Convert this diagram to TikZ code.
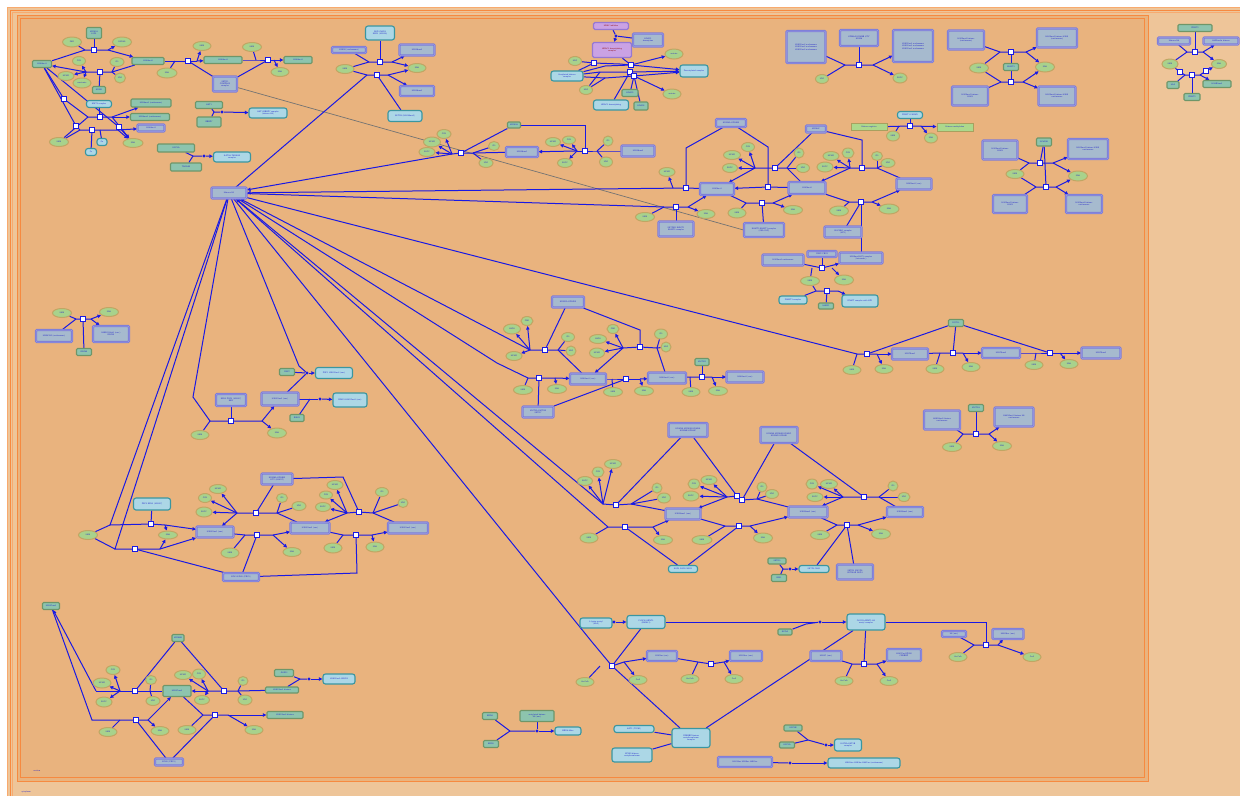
\documentclass[tikz,border=0pt]{standalone}
\usetikzlibrary{shapes.geometric,arrows.meta}
\definecolor{bgout}{RGB}{238,197,153}
\definecolor{bgin}{RGB}{233,179,126}
\definecolor{orl}{RGB}{246,138,64}
\definecolor{orl2}{RGB}{248,170,110}
\definecolor{ptf}{RGB}{141,196,174}
\definecolor{ptb}{RGB}{110,150,105}
\definecolor{cxf}{RGB}{166,186,206}
\definecolor{cxb}{RGB}{124,124,216}
\definecolor{lbf}{RGB}{172,215,230}
\definecolor{lbb}{RGB}{58,150,160}
\definecolor{elf}{RGB}{168,210,140}
\definecolor{elb}{RGB}{192,166,100}
\definecolor{puf}{RGB}{202,162,228}
\definecolor{pub}{RGB}{150,120,210}
\definecolor{grf}{RGB}{172,216,140}
\definecolor{grb}{RGB}{168,160,95}
\definecolor{eb}{RGB}{25,25,228}
\definecolor{txt}{RGB}{30,30,200}
\pgfdeclarelayer{bglayer}
\pgfdeclarelayer{edgelayer}
\pgfsetlayers{bglayer,edgelayer,main}
\tikzset{
  nb/.style={font=\fontsize{2.1}{2.4}\selectfont\sffamily, text=txt, align=center, inner sep=0.3pt},
  pt/.style 2 args={nb, draw=ptb, fill=ptf, line width=1.1pt, rounded corners=1.2pt, minimum width=#1pt, minimum height=#2pt},
  cx/.style 2 args={nb, draw=cxb, fill=cxf, line width=0.9pt, double=cxb!75!white, double distance=0.5pt, rounded corners=1pt, minimum width=#1pt, minimum height=#2pt},
  lb/.style 2 args={nb, draw=lbb, fill=lbf, line width=1.1pt, rounded corners=2.5pt, minimum width=#1pt, minimum height=#2pt},
  pu/.style 2 args={nb, draw=pub, fill=puf, line width=1.3pt, rounded corners=1.5pt, minimum width=#1pt, minimum height=#2pt, text=red!55!black},
  gr/.style 2 args={nb, draw=grb, fill=grf, line width=1pt, minimum width=#1pt, minimum height=#2pt},
  el/.style 2 args={nb, ellipse, draw=elb, fill=elf, line width=1pt, minimum width=#1pt, minimum height=#2pt, inner sep=0pt},
  pr/.style={draw=eb, fill=white, line width=0.8pt, minimum size=4.6pt, inner sep=0pt},
  dt/.style={circle, fill=eb, minimum size=3.4pt, inner sep=0pt},
  ed/.style={draw=eb, line width=1pt},
  ar/.style={ed, -{Triangle[length=3.6pt,width=3.4pt]}},
  gl/.style={draw=black!55, line width=0.7pt},
}
\begin{document}
\begin{tikzpicture}[x=1pt,y=-1pt]
\useasboundingbox (0,0) rectangle (1240,796);
\begin{pgfonlayer}{bglayer}
\fill[white] (0,0) rectangle (1240,796);
\fill[bgout] (8,8) rectangle (1240,796);
\draw[orl2,line width=0.8pt] (7.5,796) -- (7.5,7.5) -- (1240,7.5);
\draw[orl,line width=0.9pt] (10,796) -- (10,10) -- (1240,10);
\draw[orl2,line width=0.6pt] (12,796) -- (12,12) -- (1240,12);
\fill[bgin] (17,15) rectangle (1148,781);
\draw[orl,line width=0.8pt] (17,15) rectangle (1148,781);
\draw[orl,line width=1.1pt] (20.5,18.5) rectangle (1144.5,777.5);
\node[nb,anchor=west] (lnuc) at (33,771) {nucleus};
\node[nb,anchor=west] (lcyt) at (21,792) {cytoplasm};
\end{pgfonlayer}

% ---------- hub
\node[cx={35}{11}] (hub) at (229,193) {Histone H3};

% ---------- top-left A
\node[pt={15}{11}] (a1) at (94,33) {KDM1A\\LSD1};
\node[el={19}{10}] (ae1) at (72,42) {FAD};
\node[el={19}{10}] (ae2) at (122,42) {FADH2};
\node[pr] (ap1) at (94,50) {};
\node[pt={19}{7}] (a2) at (42,64) {H3K4me1};
\node[el={13}{9}] (ae3) at (79,61) {CO2};
\node[el={14}{9}] (ae4) at (117,62) {O2};
\node[el={16}{9}] (ae5) at (66,76) {HCHO};
\node[el={18}{10}] (ae6) at (82,83) {succinate};
\node[el={11}{10}] (ae7) at (120,78) {2OG};
\node[pr] (ap2) at (100,72) {};
\node[pt={13}{7}] (a3) at (99,90) {KDM5};
\node[pt={32}{7}] (a4) at (148,61) {H3K4me2};
\node[lb={25}{7}] (a7) at (99,104) {KMT2 complex};
\node[pt={40}{8}] (a8) at (151,103) {H3K4me3 (nucleosome)};
\node[pt={39}{7}] (a9) at (150,117) {H3K4me2 (nucleosome)};
\node[cx={27}{7}] (a10) at (151,128) {H3K4me1};
\node[el={19}{9}] (ae8) at (59,142) {SAM};
\node[lb={10}{7}] (a11) at (102,142) {Zn};
\node[lb={11}{7}] (a12) at (91,152) {Fe};
\node[el={20}{9}] (ae9) at (133,143) {SAH};
\node[pr] (bq1) at (64,99) {};
\node[pr] (bq2) at (76,126) {};
\node[pr] (bq5) at (100,117) {};
\node[pr] (bq4) at (92,130) {};
\node[pr] (bq6) at (119,127) {};
\node[pt={27}{7}] (a13) at (209,105) {HAT1};
\node[pt={24}{10}] (a14) at (209,122) {RBBP7};
\node[dt] (ad1) at (222,112) {};
\node[lb={38}{10}] (a15) at (268,113) {HAT1:RBBP7 complex\\(histone H4)};
\node[pt={37}{8}] (a16) at (176,148) {KAT2A};
\node[pt={31}{8}] (a17) at (186,167) {TADA2B};
\node[dt] (ad2) at (204,156) {};
\node[lb={37}{10}] (a18) at (232,157) {KAT2A:TADA2B\\complex};
\node[pr] (ap3) at (188,61) {};
\node[el={18}{9}] (ae10) at (202,46) {SAM};
\node[el={20}{10}] (ae11) at (167,73) {SAH};
\node[pt={38}{7}] (a5) at (223,60) {H3K4me3};
\node[cx={24}{15}] (a6c) at (225,84) {SETD1\\COMPASS\\complex};
\node[el={19}{9}] (ae12) at (252,47) {SAM};
\node[pr] (ap4) at (268,60) {};
\node[el={18}{9}] (ae13) at (280,72) {SAH};
\node[pt={28}{7}] (a19) at (298,60) {H3K4me3};

% ---------- top-center B
\node[lb={29}{14}] (b1) at (380,33) {NSD1 NSD2\\NSD3 (H3K36)};
\node[cx={34}{6}] (b2) at (349,50) {H3K36 (nucleosome)};
\node[cx={35}{11}] (b3) at (417,50) {H3K36me2};
\node[el={18}{9}] (be1) at (345,69) {SAM};
\node[pr] (bp1) at (380,62) {};
\node[pr] (bp2) at (377,75) {};
\node[el={18}{9}] (be2) at (417,68) {SAH};
\node[cx={34}{10}] (b4) at (417,91) {H3K36me3};
\node[lb={34}{11}] (b5) at (405,116) {SETD2 (H3K36me3)};

% ---------- purple P
\node[pu={35}{7}] (p1) at (611,26) {HDAC inhibitor};
\node[pu={39}{15}] (p2) at (612,50) {HDAC1 deacetylating\\complex};
\node[cx={30}{13}] (p3) at (648,40) {HDAC1\\deacetylase};
\node[dt] (pd1) at (616,36) {};
\node[el={13}{9}] (pe1) at (575,61) {H2O};
\node[lb={32}{10}] (p4) at (567,76) {Acetylated histone\\complex};
\node[el={13}{9}] (pe2) at (586,90) {H2O};
\node[pt={16}{7}] (p5) at (630,93) {HDAC2};
\node[lb={35}{10}] (p6) at (611,105) {HDAC3 deacetylating};
\node[pt={14}{8}] (p7) at (641,106) {HDAC8};
\node[pr] (pp1) at (594,63) {};
\node[pr] (pp2) at (631,65) {};
\node[pr] (pp3) at (630,72) {};
\node[pr] (pp4) at (634,76) {};
\node[lb={28}{12}] (p8) at (694,71) {Deacetylated complex};
\node[el={18}{10}] (pe3) at (674,54) {acetate};
\node[el={18}{10}] (pe4) at (672,94) {acetate};

% ---------- top C
\node[cx={39}{32}] (c4) at (806,47) {H3K27me3 nucleosome\\H3K27me3 nucleosome\\H3K27me2 nucleosome};
\node[cx={38}{16}] (c5) at (859,38) {KDM6A KDM6B UTY\\KDM6};
\node[cx={40}{32}] (c6) at (913,46) {H3K27me1 nucleosome\\H3K27me1 nucleosome\\H3K27me1 nucleosome};
\node[pr] (cp2) at (859,65) {};
\node[el={13}{9}] (ce3) at (822,79) {2OG};
\node[el={14}{10}] (ce4) at (900,78) {SUCC};
\node[lb={25}{7}] (c1) at (910,115) {PRMT1 CARM1};
\node[gr={36}{7}] (c2) at (869,127) {Histone arginine};
\node[gr={36}{8}] (c3) at (955,127) {Histone methylation};
\node[pr] (cp1) at (910,126) {};
\node[el={13}{10}] (ce1) at (893,136) {SAM};
\node[el={13}{10}] (ce2) at (931,138) {SAH};
\node[cx={36}{19}] (c7) at (966,40) {H3K9me2 histone\\(nucleosome)};
\node[cx={40}{19}] (c8) at (1057,38) {H3K9me3 histone H3K9\\(nucleosome)};
\node[pr] (cp3) at (1011,52) {};
\node[pr] (cp4) at (1011,82) {};
\node[el={19}{10}] (ce5) at (979,68) {SAM};
\node[pt={15}{7}] (c9) at (1011,67) {EHMT2};
\node[el={19}{10}] (ce6) at (1045,67) {SAH};
\node[cx={36}{19}] (c10) at (970,96) {H3K9me1 histone\\H3K9};
\node[cx={37}{19}] (c11) at (1057,96) {H3K9me2 histone H3K9\\nucleosome};
\node[cx={35}{19}] (c12) at (1000,150) {H3K9me2 histone\\H3K9};
\node[pt={15}{8}] (c13) at (1044,142) {SUV39H};
\node[cx={40}{20}] (c14) at (1088,149) {H3K9me3 histone H3K9\\nucleosome};
\node[el={18}{9}] (ce7) at (1015,174) {SAM};
\node[el={19}{10}] (ce8) at (1078,176) {SAH};
\node[pr] (cp5) at (1040,163) {};
\node[pr] (cp6) at (1046,187) {};
\node[cx={34}{18}] (c15) at (1010,204) {H3K9me1 histone\\H3K9};
\node[cx={36}{18}] (c16) at (1084,204) {H3K9me2 histone\\nucleosome};

% ---------- right cytoplasm D
\node[pt={34}{7}] (d1) at (1195,28) {PRMT5};
\node[cx={32}{7}] (d2) at (1174,41) {Histone H4};
\node[cx={35}{7}] (d3) at (1221,41) {H4R3me2s histone};
\node[pr] (dp1) at (1195,52) {};
\node[el={16}{10}] (de1) at (1170,64) {SAM};
\node[el={15}{9}] (de2) at (1219,64) {SAH};
\node[pr] (dp2) at (1192,75) {};
\node[pr] (dq1) at (1180,72) {};
\node[pr] (dq2) at (1206,71) {};
\node[pt={12}{7}] (d4) at (1173,85) {H2A};
\node[pt={28}{7}] (d5) at (1217,84) {H2AR3me2};
\node[pt={16}{7}] (d6) at (1192,97) {PRMT5};

% ---------- E
\node[pt={13}{6}] (e0) at (514,125) {KDM2A};
\node[el={17}{10}] (ee1) at (432,142) {HCHO};
\node[el={14}{9}] (ee2) at (444,134) {CO2};
\node[el={16}{9}] (ee3) at (427,152) {SUCC};
\node[el={11}{9}] (ee4) at (494,146) {O2};
\node[el={14}{9}] (ee5) at (486,163) {2OG};
\node[pr] (ep1) at (461,153) {};
\node[cx={32}{10}] (e1) at (522,152) {H3K36me1};
\node[el={15}{9}] (ee6) at (553,142) {HCHO};
\node[el={13}{8}] (ee7) at (569,140) {CO2};
\node[el={15}{9}] (ee8) at (565,163) {SUCC};
\node[el={10}{10}] (ee9) at (608,141) {O2};
\node[el={13}{10}] (ee10) at (606,162) {2OG};
\node[pr] (ep3) at (585,151) {};
\node[cx={33}{11}] (e2) at (638,151) {H3K36me2};

% ---------- T cluster
\node[cx={30}{8}] (t1) at (731,123) {KDM4A KDM4B};
\node[cx={20}{7}] (t2) at (816,129) {KDM4C};
\node[pr] (tp1) at (686,188) {};
\node[pr] (tp2) at (768,187) {};
\node[pr] (tp3) at (775,168) {};
\node[pr] (tp4) at (862,168) {};
\node[pr] (tp5) at (762,203) {};
\node[pr] (tp6) at (861,202) {};
\node[pr] (tp7) at (676,207) {};
\node[cx={34}{12}] (t3) at (717,189) {H3K9me1};
\node[cx={37}{12}] (t4) at (807,188) {H3K9me2};
\node[cx={35}{11}] (t5) at (914,184) {H3K9me3 (nuc)};
\node[el={16}{9}] (te1) at (667,172) {HCHO};
\node[el={17}{9}] (te2) at (732,155) {HCHO};
\node[el={13}{9}] (te3) at (748,147) {CO2};
\node[el={15}{9}] (te4) at (730,168) {SUCC};
\node[el={10}{10}] (te5) at (799,153) {O2};
\node[el={13}{9}] (te6) at (803,168) {2OG};
\node[el={16}{9}] (te7) at (831,156) {HCHO};
\node[el={12}{10}] (te8) at (848,153) {CO2};
\node[el={16}{10}] (te9) at (825,167) {SUCC};
\node[el={11}{9}] (te10) at (877,156) {O2};
\node[el={14}{9}] (te11) at (888,163) {2OG};
\node[el={19}{9}] (te12) at (645,217) {SAM};
\node[el={18}{9}] (te13) at (706,214) {SAH};
\node[cx={35}{15}] (t6) at (676,229) {SETDB1 EHMT1\\EHMT2 complex};
\node[el={18}{10}] (te14) at (737,213) {SAM};
\node[el={19}{9}] (te15) at (793,210) {SAH};
\node[cx={40}{14}] (t7) at (764,230) {EHMT2 EHMT1 complex\\(G9A GLP)};
\node[el={19}{10}] (te16) at (839,211) {SAM};
\node[el={20}{10}] (te17) at (889,209) {SAH};
\node[cx={37}{11}] (t8) at (843,232) {SUV39H1 complex\\(HP1)};
\node[cx={41}{11}] (t9) at (783,260) {H3K9me3 nucleosome};
\node[cx={29}{6}] (t10) at (822,254) {CBX5 CBX1};
\node[cx={43}{11}] (t11) at (861,258) {H3K9me3:HP1 complex\\(heterochr.)};
\node[pr] (tp8) at (822,268) {};
\node[el={19}{9}] (te18) at (810,281) {SAM};
\node[el={19}{10}] (te19) at (844,280) {SAH};
\node[pr] (tp9) at (827,291) {};
\node[lb={28}{8}] (t12) at (793,300) {DNMT3 complex};
\node[pt={15}{6}] (t13) at (826,306) {UHRF1};
\node[lb={36}{12}] (t14) at (860,301) {DNMT complex with HP1};

% ---------- F cluster
\node[cx={32}{11}] (f1) at (568,302) {KDM1A KDM1B};
\node[el={17}{10}] (fe1) at (512,329) {H2O2};
\node[el={12}{9}] (fe2) at (527,321) {FAD};
\node[el={16}{9}] (fe3) at (514,356) {HCHO};
\node[el={13}{9}] (fe4) at (568,337) {O2};
\node[el={10}{10}] (fe5) at (571,351) {H2O};
\node[pr] (fp1) at (545,350) {};
\node[el={17}{9}] (fe6) at (598,339) {H2O2};
\node[el={12}{9}] (fe7) at (613,329) {FAD};
\node[el={15}{10}] (fe8) at (597,353) {HCHO};
\node[el={13}{10}] (fe9) at (661,334) {O2};
\node[el={10}{10}] (fe10) at (666,347) {H2O};
\node[pr] (fp2) at (640,347) {};
\node[cx={36}{11}] (f2) at (588,379) {H3K4me1 (nuc)};
\node[pr] (fp3) at (539,378) {};
\node[el={19}{9}] (fe11) at (523,390) {SAM};
\node[el={19}{9}] (fe12) at (557,389) {SAH};
\node[cx={31}{11}] (f3) at (538,412) {KMT2A KMT2B\\SETD7};
\node[pr] (fp4) at (626,379) {};
\node[el={19}{9}] (fe13) at (613,392) {SAM};
\node[el={19}{9}] (fe14) at (644,391) {SAH};
\node[cx={38}{11}] (f4) at (667,378) {H3K4me2 (nuc)};
\node[pt={14}{7}] (f5) at (702,362) {KMT2D};
\node[pr] (fp5) at (702,377) {};
\node[el={18}{9}] (fe15) at (691,392) {SAM};
\node[el={19}{9}] (fe16) at (718,391) {SAH};
\node[cx={37}{11}] (f6) at (745,377) {H3K4me3 (nuc)};

% ---------- G cluster
\node[pt={15}{7}] (g1) at (956,323) {DOT1L};
\node[pr] (gp1) at (867,354) {};
\node[el={18}{9}] (ge1) at (852,370) {SAM};
\node[el={18}{9}] (ge2) at (884,369) {SAH};
\node[cx={36}{11}] (g2) at (910,354) {H3K79me1};
\node[pr] (gp2) at (953,353) {};
\node[el={18}{9}] (ge3) at (935,369) {SAM};
\node[el={18}{9}] (ge4) at (971,367) {SAH};
\node[cx={38}{10}] (g3) at (1001,353) {H3K79me2};
\node[pr] (gp3) at (1050,353) {};
\node[el={18}{9}] (ge5) at (1034,365) {SAM};
\node[el={18}{9}] (ge6) at (1069,364) {SAH};
\node[cx={39}{11}] (g4) at (1101,353) {H3K79me3};
\node[cx={36}{19}] (g5) at (942,420) {H4K20me0 histone\\nucleosome};
\node[pt={15}{7}] (g6) at (976,408) {KMT5A};
\node[cx={39}{19}] (g7) at (1014,417) {H4K20me1 histone H4\\nucleosome};
\node[pr] (gp4) at (976,434) {};
\node[el={19}{9}] (ge7) at (952,447) {SAM};
\node[el={19}{9}] (ge8) at (1002,446) {SAH};

% ---------- H cluster
\node[el={19}{9}] (he1) at (62,313) {SAM};
\node[el={19}{9}] (he2) at (109,312) {SAH};
\node[pr] (hp) at (83,319) {};
\node[cx={36}{12}] (h1) at (54,336) {H2BK120 (nucleosome)};
\node[cx={36}{16}] (h2) at (111,334) {H2BK120ub1 (nuc.)\\RNF20};
\node[pt={15}{7}] (h3) at (84,352) {RNF40};

% ---------- I cluster
\node[cx={30}{12}] (i1) at (231,400) {EZH2 PRC2 (H3K27)\\EED};
\node[cx={37}{13}] (i2) at (280,399) {H3K27me3 (nuc)};
\node[pr] (ip) at (231,421) {};
\node[el={18}{9}] (ie1) at (200,435) {SAM};
\node[el={19}{10}] (ie2) at (277,433) {SAH};
\node[pt={15}{7}] (i3) at (287,372) {CBX7};
\node[dt] (id1) at (307,373) {};
\node[lb={37}{11}] (i4) at (334,373) {PRC1 H3K27me3 (nuc)};
\node[pt={14}{7}] (i5) at (297,418) {RING1};
\node[dt] (id2) at (320,399) {};
\node[lb={34}{14}] (i6) at (350,400) {RING1 H3K27me3 (nuc)};

% ---------- J cluster
\node[lb={37}{12}] (j1) at (152,504) {PRC2 EZH2 (H3K27)};
\node[pr] (jp1) at (151,524) {};
\node[pr] (jp2) at (135,549) {};
\node[el={19}{9}] (je1) at (88,535) {SAM};
\node[el={19}{8}] (je2) at (168,535) {SAH};
\node[cx={37}{11}] (j2) at (215,532) {H3K27me1 (nuc)};
\node[el={17}{9}] (je3) at (218,489) {HCHO};
\node[el={13}{9}] (je4) at (205,498) {CO2};
\node[el={16}{10}] (je5) at (204,512) {SUCC};
\node[pr] (jp3) at (256,513) {};
\node[el={11}{9}] (je6) at (282,498) {O2};
\node[el={14}{9}] (je7) at (299,506) {2OG};
\node[pr] (jp4) at (257,535) {};
\node[el={18}{10}] (je8) at (230,553) {SAM};
\node[el={18}{9}] (je9) at (292,552) {SAH};
\node[cx={39}{11}] (j3) at (310,528) {H3K27me2 (nuc)};
\node[cx={36}{8}] (j4) at (241,577) {EZH1 EZH2 (PRC2)};
\node[cx={31}{11}] (j5) at (277,479) {KDM6A KDM6B\\UTY (H3K27)};
\node[el={16}{9}] (je10) at (335,485) {HCHO};
\node[el={13}{8}] (je11) at (326,495) {CO2};
\node[el={15}{9}] (je12) at (323,507) {SUCC};
\node[el={13}{9}] (je13) at (382,492) {O2};
\node[el={10}{9}] (je14) at (403,503) {2OG};
\node[pr] (jp5) at (359,512) {};
\node[pr] (jp6) at (356,535) {};
\node[cx={40}{11}] (j6) at (408,528) {H3K27me3 (nuc)};
\node[el={18}{10}] (je15) at (333,548) {SAM};
\node[el={18}{10}] (je16) at (375,547) {SAH};

% ---------- K cluster
\node[cx={39}{14}] (k1) at (688,430) {KDM2A KDM2B KDM4A\\KDM4B KDM4C};
\node[cx={37}{16}] (k2) at (779,435) {KDM4A KDM4B KDM4C\\KDM4D KDM4E};
\node[el={15}{9}] (ke1) at (585,481) {SUCC};
\node[el={12}{10}] (ke2) at (598,472) {CO2};
\node[el={17}{9}] (ke3) at (613,464) {HCHO};
\node[el={10}{10}] (ke4) at (657,488) {O2};
\node[el={13}{10}] (ke5) at (664,498) {2OG};
\node[pr] (kp1) at (616,505) {};
\node[cx={35}{11}] (k3) at (683,514) {H3K36me1 (nuc)};
\node[el={12}{10}] (ke6) at (694,484) {CO2};
\node[el={16}{9}] (ke7) at (709,480) {HCHO};
\node[el={16}{10}] (ke8) at (691,496) {SUCC};
\node[el={10}{10}] (ke9) at (762,487) {O2};
\node[el={13}{9}] (ke10) at (772,494) {2OG};
\node[pr] (kp2) at (737,496) {};
\node[pr] (kp3) at (742,500) {};
\node[cx={39}{11}] (k4) at (808,512) {H3K36me2 (nuc)};
\node[el={12}{10}] (ke11) at (812,484) {CO2};
\node[el={17}{9}] (ke12) at (829,484) {HCHO};
\node[el={16}{9}] (ke13) at (815,497) {SUCC};
\node[el={10}{10}] (ke14) at (893,486) {O2};
\node[el={12}{9}] (ke15) at (904,497) {2OG};
\node[pr] (kp4) at (864,497) {};
\node[cx={36}{10}] (k5) at (905,512) {H3K36me3 (nuc)};
\node[pr] (kp5) at (625,527) {};
\node[el={18}{10}] (ke16) at (589,538) {SAM};
\node[el={19}{9}] (ke17) at (663,540) {SAH};
\node[lb={29}{7}] (k6) at (683,569) {NSD1 NSD2 NSD3};
\node[pr] (kp6) at (739,526) {};
\node[el={20}{9}] (ke18) at (702,540) {SAM};
\node[el={19}{10}] (ke19) at (763,538) {SAH};
\node[pt={18}{6}] (k7) at (777,561) {SETD2};
\node[pt={15}{7}] (k8) at (779,578) {IWS1};
\node[dt] (kd) at (790,569) {};
\node[lb={30}{7}] (k9) at (814,569) {SETD2 IWS1};
\node[pr] (kp7) at (847,525) {};
\node[el={19}{9}] (ke20) at (820,535) {SAM};
\node[el={19}{10}] (ke21) at (881,534) {SAH};
\node[cx={36}{15}] (k10) at (855,572) {SETD2 SMYD2\\SETMAR NSD1};

% ---------- L cluster
\node[lb={32}{10}] (l1) at (596,623) {L-lysine acetyl\\(H2A)};
\node[dt] (ld0) at (614,622) {};
\node[lb={38}{13}] (l2) at (646,622) {CLOCK:ARNTL\\(BMAL1)};
\node[lb={38}{16}] (l3) at (866,622) {CLOCK:ARNTL:H3\\acetyl complex};
\node[pt={14}{6}] (l4) at (785,632) {NCOA};
\node[dt] (ld1) at (820,622) {};
\node[pr] (lp1) at (612,666) {};
\node[el={18}{9}] (le1) at (585,682) {Ac-CoA};
\node[cx={30}{10}] (l5) at (662,656) {H3K9ac (nuc)};
\node[el={18}{9}] (le2) at (638,680) {CoA};
\node[pr] (lp2) at (711,664) {};
\node[cx={32}{10}] (l6) at (746,656) {H3K14ac (nuc)};
\node[el={18}{9}] (le3) at (690,679) {Ac-CoA};
\node[el={18}{9}] (le4) at (734,679) {CoA};
\node[cx={31}{10}] (l7) at (826,656) {H3K27 (nuc)};
\node[cx={34}{12}] (l8) at (904,655) {H3K27ac EP300\\CREBBP};
\node[pr] (lp3) at (864,664) {};
\node[el={18}{9}] (le5) at (844,681) {Ac-CoA};
\node[el={18}{9}] (le6) at (889,681) {CoA};
\node[cx={24}{6}] (l9) at (954,634) {H4 (nuc)};
\node[cx={31}{10}] (l10) at (1008,634) {H4K16ac (nuc)};
\node[pr] (lp4) at (986,645) {};
\node[el={18}{9}] (le7) at (958,657) {Ac-CoA};
\node[el={18}{9}] (le8) at (1032,657) {CoA};
\node[lb={40}{7}] (l11) at (634,729) {KAT5 (TIP60)};
\node[lb={38}{19}] (l12) at (691,738) {CREBBP:histone\\acetyltransferase\\complex};
\node[lb={40}{14}] (l13) at (632,755) {EP300 histone\\acetyltransferase};
\node[pt={18}{6}] (l14) at (793,728) {KAT2B};
\node[pt={15}{6}] (l15) at (787,745) {KAT2A};
\node[dt] (ld2) at (826,745) {};
\node[lb={27}{12}] (l16) at (848,745) {KAT2A:KAT2B\\complex};
\node[cx={54}{10}] (l17) at (745,762) {H3K14ac H3K9ac H4K5ac};
\node[dt] (ld3) at (790,763) {};
\node[lb={72}{10}] (l18) at (864,763) {H3K14ac H3K9ac H4K5ac (nucleosome)};
\node[pt={15}{7}] (l19) at (490,716) {BRD4};
\node[pt={15}{7}] (l20) at (491,744) {BRD2};
\node[pt={34}{11}] (l21) at (537,716) {acetylated histone\\H4 (nuc)};
\node[dt] (ld4) at (537,731) {};
\node[lb={26}{8}] (l22) at (568,731) {BRD4:H4ac};

% ---------- M cluster (bottom-left)
\node[pt={17}{7}] (m1) at (51,606) {H3K27me3};
\node[pt={12}{7}] (m2) at (178,638) {KDM6B};
\node[el={14}{9}] (me1) at (113,670) {CO2};
\node[el={18}{10}] (me2) at (102,683) {HCHO};
\node[el={16}{10}] (me3) at (104,702) {SUCC};
\node[pr] (mp1) at (135,691) {};
\node[el={11}{9}] (me4) at (151,680) {O2};
\node[el={14}{9}] (me5) at (153,701) {2OG};
\node[pt={28}{11}] (m3) at (177,691) {H3K27me2};
\node[el={17}{9}] (me6) at (183,675) {HCHO};
\node[el={13}{10}] (me7) at (199,674) {CO2};
\node[el={15}{9}] (me8) at (202,700) {SUCC};
\node[el={10}{9}] (me9) at (243,681) {O2};
\node[el={14}{10}] (me10) at (245,700) {2OG};
\node[pr] (mp2) at (224,691) {};
\node[pt={33}{6}] (m4) at (282,690) {H3K27me1 histone};
\node[pt={19}{7}] (m5) at (284,673) {JMJD3};
\node[dt] (md1) at (309,679) {};
\node[lb={32}{10}] (m6) at (339,679) {H3K27me1:JMJD3};
\node[pr] (mp3) at (136,720) {};
\node[el={18}{9}] (me11) at (108,732) {SAM};
\node[el={18}{9}] (me12) at (160,731) {SAH};
\node[pr] (mp4) at (215,715) {};
\node[el={18}{9}] (me13) at (187,730) {SAM};
\node[el={18}{9}] (me14) at (254,730) {SAH};
\node[pt={36}{7}] (m7) at (285,715) {H3K27me2 histone};
\node[cx={28}{7}] (m8) at (169,762) {EZH2 (PRC2)};

% ======================= EDGES
\begin{pgfonlayer}{edgelayer}
% A
\draw[ed] (a2) -- (85,50) -- (ap1) -- (108,50);
\draw[ar] (108,50) -- (a4);
\draw[ed] (ae1) -- (85,50);
\draw[ar] (108,50) -- (ae2);
\draw[ed] (a1) -- (ap1);
\draw[ed] (a4) -- (112,72) -- (ap2) -- (86,72);
\draw[ar] (86,72) -- (a2);
\draw[ed] (ae4) -- (112,72); \draw[ed] (ae7) -- (112,72);
\draw[ar] (86,72) -- (ae3); \draw[ar] (86,72) -- (ae5); \draw[ar] (86,72) -- (ae6);
\draw[ed] (a3) -- (ap2);
\draw[ed] (a2) -- (bq1) -- (88,117) -- (bq5) -- (112,117);
\draw[ar] (112,117) -- (a9); \draw[ar] (112,117) -- (a8);
\draw[ed] (a7) -- (bq5);
\draw[ed] (a2) -- (bq2) -- (80,130) -- (bq4) -- (118,130);
\draw[ar] (118,130) -- (a10);
\draw[ed] (ae8) -- (88,117); \draw[ed] (ae8) -- (80,130);
\draw[ar] (112,117) -- (ae9); \draw[ar] (118,130) -- (ae9);
\draw[ed] (a12) -- (bq4); \draw[ed] (a11) -- (100,130);
\draw[ed] (a2) -- (bq6); \draw[ar] (bq6) -- (ae9);
\draw[ed] (a13) -- (214,112) -- (ad1); \draw[ed] (a14) -- (214,112);
\draw[ar] (ad1) -- (a15);
\draw[ed] (a16) -- (193,156) -- (ad2); \draw[ed] (a17) -- (193,156);
\draw[ar] (ad2) -- (a18);
\draw[ed] (a4) -- (ap3) -- (197,61); \draw[ar] (197,61) -- (a5);
\draw[ed] (ae11) -- (175,61); \draw[ar] (197,61) -- (ae10);
\draw[ed] (a6c) -- (ap3);
\draw[ed] (a5) -- (256,60) -- (ap4) -- (274,60); \draw[ar] (274,60) -- (a19);
\draw[ed] (ae12) -- (256,60); \draw[ar] (274,60) -- (ae13);
\draw[ed] (a6c) -- (ap4);
\draw[gl] (a6c) -- (t7.west);
% B
\draw[ed] (b2) -- (369,62) -- (bp1) -- (392,62);
\draw[ed] (be1) -- (369,62);
\draw[ar] (392,62) -- (b3); \draw[ar] (392,62) -- (be2);
\draw[ed] (b1) -- (bp1);
\draw[ed] (be1) -- (367,75) -- (bp2) -- (388,75);
\draw[ar] (388,75) -- (b4); \draw[ar] (388,75) -- (be2);
\draw[ed] (b5) -- (bp2);
\draw[ed] (hub) -- (367,75);
% P
\draw[ed] (p1) -- (pd1); \draw[ed] (p3) -- (pd1); \draw[ar] (pd1) -- (p2);
\draw[ed] (pe1) -- (pp1);
\draw[ed] (p4) -- (pp1) -- (620,64) -- (pp2);
\draw[ar] (pp2) -- (p8);
\draw[ed] (p4) -- (600,72) -- (pp3); \draw[ar] (pp3) -- (p8);
\draw[ed] (p4) -- (605,78) -- (pp4); \draw[ar] (pp4) -- (p8);
\draw[ed] (pe2) -- (600,72); \draw[ed] (pe2) -- (605,78);
\draw[ed] (p2) -- (pp2); \draw[ed] (p6) -- (pp3); \draw[ed] (p5) -- (pp4); \draw[ed] (p7) -- (pp4);
\draw[ar] (pp2) -- (pe3); \draw[ar] (pp4) -- (pe4);
\draw[ed] (p4) -- (605,66) -- (pp2);
% C
\draw[ed] (c4) -- (845,65) -- (cp2) -- (873,65);
\draw[ar] (873,65) -- (c6); \draw[ed] (ce3) -- (845,65); \draw[ar] (873,65) -- (ce4);
\draw[ed] (c5) -- (cp2);
\draw[ed] (c2) -- (cp1); \draw[ar] (cp1) -- (c3);
\draw[ed] (ce1) -- (899,126); \draw[ar] (921,126) -- (ce2); \draw[ed] (c1) -- (cp1);
\draw[ed] (c7) -- (1000,52) -- (cp3) -- (1026,52);
\draw[ar] (1026,52) -- (c8); \draw[ar] (1026,52) -- (ce6); \draw[ed] (ce5) -- (1000,52);
\draw[ed] (c10) -- (1001,82) -- (cp4) -- (1023,82);
\draw[ar] (1023,82) -- (c11); \draw[ar] (1023,82) -- (ce6); \draw[ed] (ce5) -- (1001,82);
\draw[ed] (c9) -- (cp3); \draw[ed] (c9) -- (cp4);
\draw[ed] (c12) -- (1029,163) -- (cp5) -- (1053,163);
\draw[ar] (1053,163) -- (c14); \draw[ar] (1053,163) -- (ce8); \draw[ed] (ce7) -- (1029,163);
\draw[ed] (c15) -- (1036,187) -- (cp6) -- (1056,187);
\draw[ar] (1056,187) -- (c16); \draw[ar] (1056,187) -- (ce8); \draw[ed] (ce7) -- (1036,187);
\draw[ed] (c13) -- (cp5); \draw[ed] (c13) -- (cp6);
% D
\draw[ed] (d2) -- (1187,52) -- (dp1) -- (1203,52);
\draw[ar] (1203,52) -- (d3); \draw[ar] (1203,52) -- (de2); \draw[ed] (de1) -- (1187,52);
\draw[ed] (d1) -- (dp1);
\draw[ed] (de1) -- (dq1) -- (1185,75) -- (dp2) -- (1200,75);
\draw[ed] (d4) -- (1185,75);
\draw[ar] (1200,75) -- (d5); \draw[ed] (1200,75) -- (dq2); \draw[ar] (dq2) -- (de2);
\draw[ed] (d6) -- (dp2);
% E
\draw[ed] (e1) -- (473,153) -- (ep1) -- (452,154);
\draw[ar] (452,154) -- (hub);
\draw[ar] (452,154) -- (ee1); \draw[ar] (452,154) -- (ee2); \draw[ar] (452,154) -- (ee3);
\draw[ed] (ee4) -- (473,153); \draw[ed] (ee5) -- (473,153);
\draw[ed] (e0) -- (ep1);
\draw[ed] (e2) -- (597,151) -- (ep3) -- (577,151);
\draw[ar] (577,151) -- (e1);
\draw[ar] (577,151) -- (ee6); \draw[ar] (577,151) -- (ee7); \draw[ar] (577,151) -- (ee8);
\draw[ed] (ee9) -- (597,151); \draw[ed] (ee10) -- (597,151);
\draw[ed] (e0) -- (585,125) -- (ep3);
% T
\draw[ed] (t1) -- (686,148) -- (tp1);
\draw[ed] (t1) -- (768,147) -- (tp2);
\draw[ed] (t2) -- (tp3);
\draw[ed] (t2) -- (862,140) -- (tp4);
\draw[ed] (t4) -- (787,168) -- (tp3) -- (755,168);
\draw[ar] (755,168) -- (t3);
\draw[ar] (755,168) -- (te2); \draw[ar] (755,168) -- (te3); \draw[ar] (755,168) -- (te4);
\draw[ed] (te5) -- (787,168); \draw[ed] (te6) -- (787,168);
\draw[ed] (t5) -- (877,168) -- (tp4) -- (850,168);
\draw[ar] (850,168) -- (t4);
\draw[ar] (850,168) -- (te7); \draw[ar] (850,168) -- (te8); \draw[ar] (850,168) -- (te9);
\draw[ed] (te10) -- (877,168); \draw[ed] (te11) -- (877,168);
\draw[ed] (t4) -- (tp2); \draw[ar] (tp2) -- (t3);
\draw[ed] (t3) -- (tp1); \draw[ar] (tp1) -- (hub);
\draw[ar] (673,188) -- (te1);
\draw[ed] (hub) -- (664,207) -- (tp7) -- (688,207);
\draw[ar] (688,207) -- (t3); \draw[ed] (te12) -- (664,207); \draw[ar] (688,207) -- (te13);
\draw[ed] (t6) -- (tp7);
\draw[ed] (t3) -- (746,203) -- (tp5) -- (773,203);
\draw[ar] (773,203) -- (t4); \draw[ed] (te14) -- (746,203); \draw[ar] (773,203) -- (te15);
\draw[ed] (t7) -- (tp5);
\draw[ed] (t4) -- (849,202) -- (tp6) -- (872,202);
\draw[ar] (872,202) -- (t5); \draw[ed] (te16) -- (849,202); \draw[ar] (872,202) -- (te17);
\draw[ed] (t8) -- (tp6); \draw[ed] (tp6) -- (t11);
\draw[ed] (t9) -- (tp8); \draw[ar] (tp8) -- (t11); \draw[ed] (t10) -- (tp8);
\draw[ed] (te18) -- (812,268); \draw[ar] (832,268) -- (te19);
\draw[ed] (t12) -- (816,291) -- (tp9) -- (838,291);
\draw[ar] (838,291) -- (t14); \draw[ed] (te18) -- (816,291); \draw[ed] (t13) -- (tp9);
% F
\draw[ed] (f2) -- (558,350) -- (fp1) -- (530,350);
\draw[ar] (530,350) -- (hub);
\draw[ar] (530,350) -- (fe1); \draw[ar] (530,350) -- (fe2); \draw[ar] (530,350) -- (fe3);
\draw[ed] (fe4) -- (558,350); \draw[ed] (fe5) -- (558,350);
\draw[ed] (f1) -- (fp1);
\draw[ed] (f4) -- (657,348) -- (fp2) -- (623,348);
\draw[ar] (623,348) -- (f2);
\draw[ar] (623,348) -- (fe6); \draw[ar] (623,348) -- (fe7); \draw[ar] (623,348) -- (fe8);
\draw[ed] (fe9) -- (657,348); \draw[ed] (fe10) -- (657,348);
\draw[ed] (f1) -- (640,330) -- (fp2);
\draw[ed] (hub) -- (497,363) -- (528,378) -- (fp3) -- (555,378);
\draw[ar] (555,378) -- (f2); \draw[ed] (fe11) -- (528,378); \draw[ar] (555,378) -- (fe12);
\draw[ed] (f3) -- (fp3);
\draw[ed] (f2) -- (612,379) -- (fp4) -- (640,379);
\draw[ar] (640,379) -- (f4); \draw[ed] (fe13) -- (612,379); \draw[ar] (640,379) -- (fe14);
\draw[ed] (f3) -- (fp4);
\draw[ed] (f4) -- (690,377) -- (fp5) -- (712,377);
\draw[ar] (712,377) -- (f6); \draw[ed] (fe15) -- (690,377); \draw[ar] (712,377) -- (fe16);
\draw[ed] (f5) -- (fp5);
% G
\draw[ed] (hub) -- (857,354) -- (gp1) -- (877,354);
\draw[ar] (877,354) -- (g2); \draw[ed] (ge1) -- (857,354); \draw[ar] (877,354) -- (ge2);
\draw[ed] (g1) -- (gp1);
\draw[ed] (g2) -- (940,353) -- (gp2) -- (963,353);
\draw[ar] (963,353) -- (g3); \draw[ed] (ge3) -- (940,353); \draw[ar] (963,353) -- (ge4);
\draw[ed] (g1) -- (gp2);
\draw[ed] (g3) -- (1036,353) -- (gp3) -- (1060,353);
\draw[ar] (1060,353) -- (g4); \draw[ed] (ge5) -- (1036,353); \draw[ar] (1060,353) -- (ge6);
\draw[ed] (g1) -- (gp3);
\draw[ed] (g5) -- (963,434) -- (gp4) -- (989,434);
\draw[ar] (989,434) -- (g7); \draw[ed] (ge7) -- (963,434); \draw[ar] (989,434) -- (ge8);
\draw[ed] (g6) -- (gp4);
% H
\draw[ed] (h1) -- (76,319) -- (hp) -- (91,319);
\draw[ed] (he1) -- (76,319);
\draw[ar] (91,319) -- (he2); \draw[ar] (91,319) -- (h2);
\draw[ed] (h3) -- (hp);
% I
\draw[ed] (hub) -- (193,397) -- (210,421) -- (ip) -- (262,421);
\draw[ar] (262,421) -- (i2); \draw[ar] (262,421) -- (ie2);
\draw[ed] (ie1) -- (210,421); \draw[ed] (i1) -- (ip);
\draw[ed] (hub) -- (299,366) -- (id1); \draw[ed] (i3) -- (id1); \draw[ed] (i2) -- (id1);
\draw[ar] (id1) -- (i4);
\draw[ed] (i2) -- (id2); \draw[ed] (i5) -- (310,399); \draw[ar] (id2) -- (i6);
% J
\draw[ed] (hub) -- (110,525) -- (jp1) -- (165,525);
\draw[ar] (165,525) -- (j2); \draw[ar] (165,525) -- (je2);
\draw[ed] (je1) -- (110,525); \draw[ed] (j1) -- (jp1);
\draw[ed] (hub) -- (115,549) -- (jp2) -- (160,549);
\draw[ar] (160,549) -- (j2); \draw[ar] (160,549) -- (je2);
\draw[ed] (je1) -- (115,549); \draw[ed] (j4) -- (jp2);
\draw[ed] (j2) -- (245,535) -- (jp4) -- (273,535);
\draw[ar] (273,535) -- (j3); \draw[ar] (273,535) -- (je9);
\draw[ed] (je8) -- (245,535); \draw[ed] (j4) -- (jp4);
\draw[ed] (j3) -- (277,513) -- (jp3) -- (237,513);
\draw[ar] (237,513) -- (j2); \draw[ar] (237,513) -- (je3); \draw[ar] (237,513) -- (je4); \draw[ar] (237,513) -- (je5);
\draw[ed] (je6) -- (277,513); \draw[ed] (je7) -- (277,513); \draw[ed] (j5) -- (jp3);
\draw[ed] (j6) -- (373,513) -- (jp5) -- (347,513);
\draw[ar] (347,513) -- (j3); \draw[ar] (347,513) -- (je10); \draw[ar] (347,513) -- (je11); \draw[ar] (347,513) -- (je12);
\draw[ed] (je13) -- (373,513); \draw[ed] (je14) -- (373,513);
\draw[ed] (j5) -- (343,477) -- (jp5);
\draw[ed] (j3) -- (343,535) -- (jp6) -- (372,535);
\draw[ar] (372,535) -- (j6); \draw[ar] (372,535) -- (je16);
\draw[ed] (je15) -- (343,535); \draw[ed] (j4) -- (357,573) -- (jp6);
% K
\draw[ed] (k3) -- (631,504) -- (kp1) -- (603,504);
\draw[ar] (603,504) -- (hub);
\draw[ar] (603,504) -- (ke1); \draw[ar] (603,504) -- (ke2); \draw[ar] (603,504) -- (ke3);
\draw[ed] (ke4) -- (631,504); \draw[ed] (ke5) -- (631,504);
\draw[ed] (k1) -- (kp1);
\draw[ed] (k4) -- (757,499) -- (kp3) -- (kp2) -- (727,497);
\draw[ar] (727,497) -- (k3);
\draw[ar] (727,497) -- (ke6); \draw[ar] (727,497) -- (ke7); \draw[ar] (727,497) -- (ke8);
\draw[ed] (ke9) -- (757,499); \draw[ed] (ke10) -- (757,499);
\draw[ed] (k1) -- (kp2); \draw[ed] (k2) -- (kp3);
\draw[ed] (k5) -- (879,497) -- (kp4) -- (843,497);
\draw[ar] (843,497) -- (k4);
\draw[ar] (843,497) -- (ke11); \draw[ar] (843,497) -- (ke12); \draw[ar] (843,497) -- (ke13);
\draw[ed] (ke14) -- (879,497); \draw[ed] (ke15) -- (879,497);
\draw[ed] (k2) -- (kp4);
\draw[ed] (hub) -- (608,527) -- (kp5) -- (653,527);
\draw[ar] (653,527) -- (k3); \draw[ar] (653,527) -- (ke17); \draw[ed] (ke16) -- (608,527);
\draw[ed] (k6) -- (kp5);
\draw[ed] (k3) -- (725,526) -- (kp6) -- (750,526);
\draw[ar] (750,526) -- (k4); \draw[ar] (750,526) -- (ke19); \draw[ed] (ke18) -- (725,526);
\draw[ed] (k6) -- (kp6);
\draw[ed] (k4) -- (837,525) -- (kp7) -- (858,525);
\draw[ar] (858,525) -- (k5); \draw[ar] (858,525) -- (ke21); \draw[ed] (ke20) -- (837,525);
\draw[ed] (k9) -- (kp7); \draw[ed] (k10) -- (kp7);
\draw[ed] (k7) -- (783,569) -- (kd); \draw[ed] (k8) -- (783,569);
\draw[ar] (kd) -- (k9);
% L
\draw[ed] (l1) -- (ld0); \draw[ar] (ld0) -- (l2);
\draw[ed] (l2) -- (ld1); \draw[ed] (l4) -- (806,624) -- (ld1); \draw[ar] (ld1) -- (l3);
\draw[ed] (hub) -- (592,642) -- (lp1);
\draw[ed] (l2) -- (lp1);
\draw[ed] (le1) -- (600,666); \draw[ed] (lp1) -- (624,662);
\draw[ar] (624,662) -- (l5); \draw[ar] (624,662) -- (le2);
\draw[ed] (l5) -- (698,662) -- (lp2) -- (724,662);
\draw[ar] (724,662) -- (l6); \draw[ed] (le3) -- (698,662); \draw[ar] (724,662) -- (le4);
\draw[ed] (l7) -- (852,664) -- (lp3) -- (877,664);
\draw[ar] (877,664) -- (l8); \draw[ed] (le5) -- (852,664); \draw[ar] (877,664) -- (le6);
\draw[ed] (l3) -- (lp3);
\draw[ed] (l9) -- (974,645) -- (lp4) -- (998,645);
\draw[ar] (998,645) -- (l10); \draw[ed] (le7) -- (974,645); \draw[ar] (998,645) -- (le8);
\draw[ed] (l3) -- (986,622) -- (lp4);
\draw[ed] (l11) -- (l12); \draw[ed] (l13) -- (l12);
\draw[ed] (l12) -- (l3);
\draw[ed] (lp1) -- (l12);
\draw[ed] (l14) -- (808,740) -- (ld2); \draw[ed] (l15) -- (808,740);
\draw[ar] (ld2) -- (l16);
\draw[ed] (l17) -- (ld3); \draw[ar] (ld3) -- (l18);
\draw[ed] (l19) -- (510,731) -- (ld4); \draw[ed] (l20) -- (510,731);
\draw[ed] (l21) -- (ld4); \draw[ar] (ld4) -- (l22);
% M
\draw[ed] (m3) -- (150,691) -- (mp1) -- (120,691);
\draw[ar] (120,691) -- (me1); \draw[ar] (120,691) -- (me2); \draw[ar] (120,691) -- (me3);
\draw[ed] (me4) -- (150,691); \draw[ed] (me5) -- (150,691);
\draw[ed] (120,691) -- (96,691);
\draw[ar] (96,691) -- (m1);
\draw[ed] (m2) -- (mp1);
\draw[ed] (m4) -- (238,691) -- (mp2) -- (208,691);
\draw[ar] (208,691) -- (m3);
\draw[ar] (208,691) -- (me6); \draw[ar] (208,691) -- (me7); \draw[ar] (208,691) -- (me8);
\draw[ed] (me9) -- (238,691); \draw[ed] (me10) -- (238,691);
\draw[ed] (m2) -- (mp2);
\draw[ed] (m5) -- (300,679) -- (md1); \draw[ed] (m4) -- (300,679);
\draw[ar] (md1) -- (m6);
\draw[ed] (m1) -- (92,720) -- (mp3) -- (148,720);
\draw[ar] (148,720) -- (m3); \draw[ed] (me11) -- (120,720); \draw[ar] (148,720) -- (me12);
\draw[ed] (m3) -- (203,715) -- (mp4) -- (228,715);
\draw[ar] (228,715) -- (m7); \draw[ed] (me13) -- (203,715); \draw[ar] (228,715) -- (me14);
\draw[ed] (m8) -- (mp3); \draw[ed] (m8) -- (mp4);
\end{pgfonlayer}
\end{tikzpicture}
\end{document}
